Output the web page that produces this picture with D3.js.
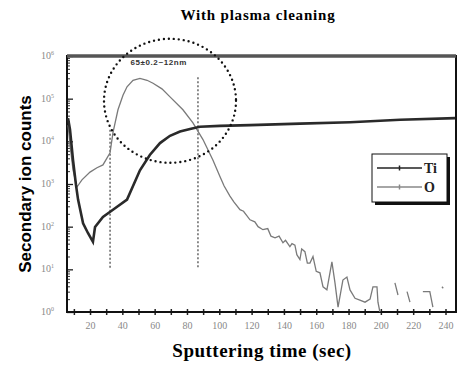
<!DOCTYPE html>
<html>
<head>
<meta charset="utf-8">
<script src="https://cdn.jsdelivr.net/npm/d3@7"></script>
<style>
  body { margin: 0; background: #fff; }
  svg { display: block; }
</style>
</head>
<body>
<svg width="457" height="368"></svg>
<script>
// Ti profile (time in sec, counts)
var tiTime = [6.4, 7.6, 9.5, 11.3, 12.6, 15.7, 18.7, 21.8, 23.1, 28, 34.2, 42.9, 50.9, 57, 63.3, 69.5, 75.7, 81.9, 88, 100.4, 119, 150, 181, 212, 246];
var tiCounts = [35000, 19000, 3600, 950, 430, 120, 71, 44, 98, 170, 250, 430, 2100, 4800, 9100, 13500, 17000, 19500, 22000, 23000, 24000, 26000, 28000, 32000, 35000];

// O profile, null = no counts (gap)
var oTime = [6.4, 7.6, 9.5, 11.9, 15, 20, 24.3, 28, 32.4, 34.2, 37.3, 40.4, 42.9, 46.6, 50.9, 55.3, 59, 64.5, 69.5, 77.5, 83.7, 89.9, 96.1, 100.4,
  103, 106.6, 109, 112.8, 115, 119, 122, 124, 127, 130, 132, 134.5, 137, 139.4, 141, 143.7, 145, 146.8, 148, 149.9, 151, 153, 154.5, 156.1, 158, 160,
  162.3, 164.2, 166.6, 169.7, 171.6, 173.5, 176.5, 179, 180.9, 184, 187, 190.2, 193.3, 195.1, 197.6, 198.2, 199.4, 204,
  208.7, 210.6, 213, 216.2, 218, 222, 226, 230.3, 232.2, 235, 237.8, 238.6];
var oCounts = [24000, 8300, 2100, 850, 1250, 1900, 2400, 2800, 5400, 16000, 55000, 120000, 190000, 270000, 300000, 270000, 230000, 170000, 110000, 55000, 27000, 11000, 3600, 1500,
  900, 520, 380, 250, 230, 145, 130, 100, 85, 90, 60, 55, 60, 42, 48, 34, 40, 37, 22, 17, 30, 26, 14, 14, 20, 9,
  8.3, 3.9, 3.3, 15, 4.8, 1.3, 5.6, 6.6, 3.3, 2.1, 1.9, 1.7, 2.0, 3.9, 3.9, 1.7, 1.0, null,
  4.8, 2.5, null, 3.0, 1.7, null, 3.0, 3.0, 1.3, null, 3.9, 3.6];

var yTickExp = [0, 1, 2, 3, 4, 5, 6];
var xTickValues = [20, 40, 60, 80, 100, 120, 140, 160, 180, 200, 220, 240];
var markerTimes = [32.4, 86.8];
var seriesNames = ["Ti", "O"];

var svg = d3.select("svg");
var pLeft = 67, pRight = 456, pTop = 56, pBottom = 312;

var x = d3.scaleLinear().domain([5.75, 246.5]).range([pLeft, pRight]);
var y = d3.scaleLog().domain([1, 1e6]).range([pBottom, pTop]).clamp(true);

svg.append("text")
    .attr("x", 258).attr("y", 20)
    .attr("text-anchor", "middle")
    .style("font-family", "Liberation Serif")
    .style("font-weight", "bold")
    .style("font-size", "15px")
    .style("letter-spacing", "0.8px")
    .text("With plasma cleaning");

// y axis minor + major ticks (inside)
var minor = y.ticks().filter(function(d) { return Math.abs(Math.log10(d) - Math.round(Math.log10(d))) > 1e-6; });
svg.append("g").attr("transform", "translate(" + pLeft + ",0)")
    .call(d3.axisLeft(y).tickValues(minor).tickSize(-3).tickFormat(""))
    .call(function(g) { g.select(".domain").remove(); g.selectAll("line").attr("stroke", "#333"); });
svg.append("g").attr("transform", "translate(" + pLeft + ",0)")
    .call(d3.axisLeft(y).tickValues(yTickExp.map(function(e) { return Math.pow(10, e); })).tickSize(-6).tickFormat(""))
    .call(function(g) { g.select(".domain").remove(); g.selectAll("line").attr("stroke", "#222").attr("stroke-width", 1.3); });

var yl = svg.append("g");
yTickExp.forEach(function(e) {
    var t = yl.append("text")
        .attr("x", 54).attr("y", y(Math.pow(10, e)) + 3)
        .attr("text-anchor", "end")
        .style("font-family", "Liberation Serif")
        .style("font-size", "10px")
        .attr("fill", "#888");
    t.append("tspan").text("10");
    t.append("tspan").attr("dy", -4).style("font-size", "6px").text(e);
});

// x axis ticks crossing the bottom line
var xAll = d3.range(10, 241, 10);
svg.append("g").attr("transform", "translate(0," + pBottom + ")")
    .call(d3.axisBottom(x).tickValues(xAll).tickSize(3).tickFormat(""))
    .call(function(g) { g.select(".domain").remove(); g.selectAll("line").attr("stroke", "#222").attr("stroke-width", 1.5); });
svg.append("g").attr("transform", "translate(0," + pBottom + ")")
    .call(d3.axisBottom(x).tickValues(xAll).tickSize(-3).tickFormat(""))
    .call(function(g) { g.select(".domain").remove(); g.selectAll("line").attr("stroke", "#222").attr("stroke-width", 1.5); });
svg.append("g").attr("transform", "translate(0," + pBottom + ")")
    .call(d3.axisBottom(x).tickValues(xTickValues).tickSize(0).tickPadding(10))
    .call(function(g) {
        g.select(".domain").remove();
        g.selectAll("text").attr("fill", "#888")
            .style("font-family", "Liberation Serif").style("font-size", "10px");
    });

// frame
svg.append("rect")
    .attr("x", pLeft).attr("y", pTop)
    .attr("width", pRight - pLeft).attr("height", pBottom - pTop)
    .attr("fill", "none").attr("stroke", "#111").attr("stroke-width", 2);
svg.append("line").attr("x1", pLeft).attr("x2", pRight).attr("y1", pTop).attr("y2", pTop)
    .attr("stroke", "#555").attr("stroke-width", 3.5);

svg.append("clipPath").attr("id", "clip")
    .append("rect").attr("x", pLeft).attr("y", pTop).attr("width", pRight - pLeft).attr("height", pBottom - pTop);
var plot = svg.append("g").attr("clip-path", "url(#clip)");

// marker lines
plot.selectAll(".vline").data(markerTimes).enter().append("line")
    .attr("x1", function(d) { return x(d); }).attr("x2", function(d) { return x(d); })
    .attr("y1", function(d, i) { return i === 0 ? y(Math.pow(10, 4.27)) : y(Math.pow(10, 5.5)); })
    .attr("y2", y(10))
    .attr("stroke", "#666").attr("stroke-width", 1.5).attr("stroke-dasharray", "2,2");

var oData = oTime.map(function(t, i) { return { t: t, v: oCounts[i] }; });
var tiData = tiTime.map(function(t, i) { return { t: t, v: tiCounts[i] }; });

var line = d3.line()
    .defined(function(d) { return d.v !== null; })
    .x(function(d) { return x(d.t); })
    .y(function(d) { return y(Math.max(d.v, 1)); });

plot.append("path").datum(oData).attr("d", line)
    .attr("fill", "none").attr("stroke", "#7a7a7a").attr("stroke-width", 1.3);
plot.append("path").datum(tiData).attr("d", line)
    .attr("fill", "none").attr("stroke", "#2a2a2a").attr("stroke-width", 2.6);

// dotted circle
svg.append("ellipse")
    .attr("cx", x(69.5)).attr("cy", y(Math.pow(10, 4.95)))
    .attr("rx", 66).attr("ry", 62)
    .attr("fill", "none").attr("stroke", "#111").attr("stroke-width", 2.4)
    .attr("stroke-linecap", "round").attr("stroke-dasharray", "0,5");

svg.append("text")
    .attr("x", x(45)).attr("y", y(Math.pow(10, 5.8)))
    .style("font-family", "Liberation Sans")
    .style("font-weight", "bold")
    .style("font-size", "8px")
    .style("letter-spacing", "0.6px")
    .attr("fill", "#333")
    .text("65±0.2~12nm");

// legend
var lg = svg.append("g").attr("transform", "translate(372,154)");
lg.append("rect").attr("x", 3).attr("y", 3).attr("width", 75).attr("height", 48).attr("fill", "#111");
lg.append("rect").attr("width", 75).attr("height", 48).attr("fill", "#fff").attr("stroke", "#111").attr("stroke-width", 1);
seriesNames.forEach(function(name, i) {
    var yy = 14 + i * 19;
    var col = i === 0 ? "#222" : "#888";
    lg.append("line").attr("x1", 5).attr("x2", 50).attr("y1", yy).attr("y2", yy)
        .attr("stroke", col).attr("stroke-width", 1.3);
    lg.append("line").attr("x1", 27.5).attr("x2", 27.5).attr("y1", yy - 2.5).attr("y2", yy + 2.5)
        .attr("stroke", col).attr("stroke-width", 1.5);
    lg.append("text").attr("x", 52).attr("y", yy + 4.5)
        .style("font-family", "Liberation Serif").style("font-weight", "bold").style("font-size", "14px")
        .attr("fill", "#222").text(name);
});

// axis titles
svg.append("text")
    .attr("x", 262).attr("y", 357)
    .attr("text-anchor", "middle")
    .style("font-family", "Liberation Serif")
    .style("font-weight", "bold")
    .style("font-size", "19px")
    .style("letter-spacing", "0.5px")
    .text("Sputtering time (sec)");

svg.append("text")
    .attr("transform", "translate(31,184) rotate(-90)")
    .attr("text-anchor", "middle")
    .style("font-family", "Liberation Sans")
    .style("font-weight", "bold")
    .style("font-size", "17px")
    .text("Secondary ion counts");
</script>
</body>
</html>
